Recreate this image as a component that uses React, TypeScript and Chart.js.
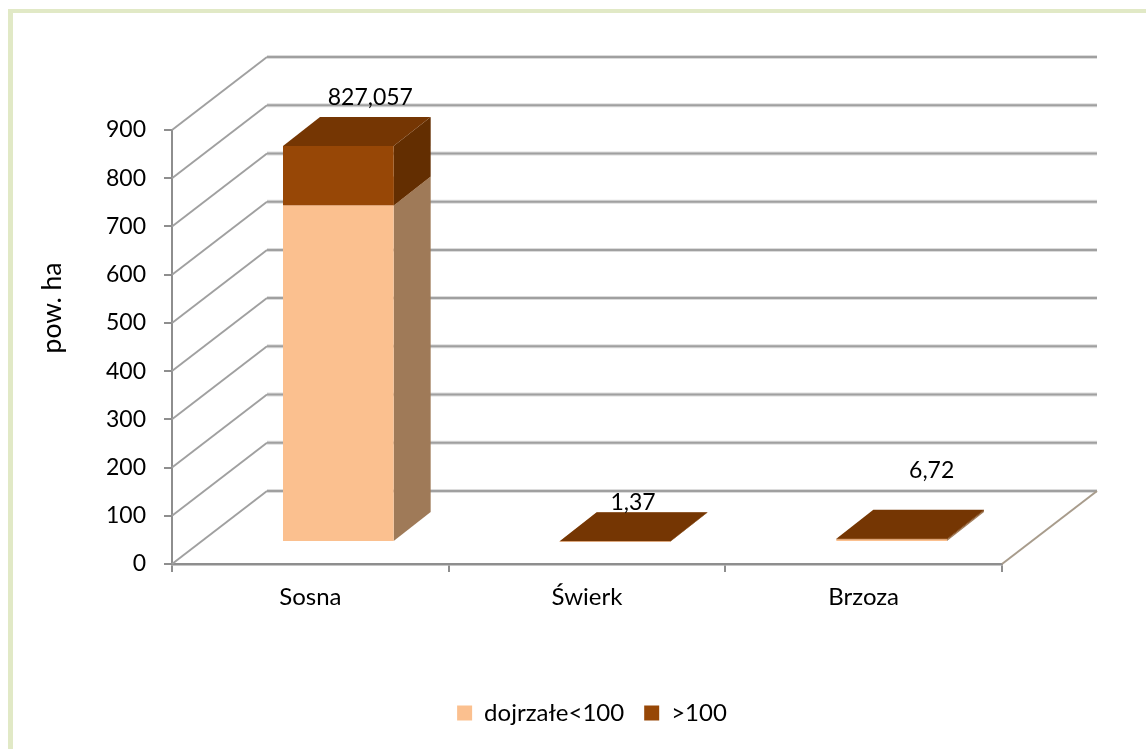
import React, { useEffect, useRef } from "react";
import { Chart, registerables } from "chart.js";

Chart.register(...registerables);

const categories = ["Sosna", "Świerk", "Brzoza"];
const matureValues = [698, 1.0, 5.4];
const overValues = [123, 0.37, 1.32];
const valueLabels = ["827,057", "1,37", "6,72"];
const seriesNames = ["dojrzałe<100", ">100"];
const yMax = 900;
const yStep = 100;
const axisTitle = "pow. ha";

const FONT = "Lato";
const FS = 23;
const FS2 = 24;
const FS_TITLE = 26.5;
const GRID = "#a0a0a0";
const AXIS = "#8e8e8e";
const WALL_DX = 95;
const WALL_DY = -73;
const BAR_SHIFT_X = 28;
const BAR_SHIFT_Y = -22;
const BAR_DX = 37;
const BAR_DY = -29;
const FACE_COLORS = ["#fbc08f", "#974706"];
const TOP_COLORS = ["#c99a72", "#753603"];
const SIDE_COLORS = ["#9f7a58", "#632e01"];
const LABEL_OFFSETS = [
  [32, -49],
  [18, -39],
  [40, -68],
];
const LEGEND_SHIFT = 74;

function poly(ctx: CanvasRenderingContext2D, pts: number[][], fill: string) {
  ctx.fillStyle = fill;
  ctx.beginPath();
  pts.forEach(([x, y], i) => (i ? ctx.lineTo(x, y) : ctx.moveTo(x, y)));
  ctx.closePath();
  ctx.fill();
}

const scene = {
  id: "scene3d",
  afterLayout(chart: any) {
    chart.legend.left += LEGEND_SHIFT;
    chart.legend.right += LEGEND_SHIFT;
  },
  beforeDraw(chart: any) {
    const { ctx } = chart;
    ctx.save();
    ctx.fillStyle = "#ffffff";
    ctx.fillRect(0, 0, chart.width, chart.height);
    ctx.fillStyle = "#e1e9c6";
    ctx.fillRect(8, 9, chart.width - 8, 4);
    ctx.fillRect(8, 9, 5, chart.height - 9);
    ctx.restore();
  },
  beforeDatasetsDraw(chart: any) {
    const { ctx, chartArea, scales } = chart;
    const y = scales.y;
    ctx.save();
    ctx.lineCap = "butt";
    y.ticks.forEach((t: any) => {
      const py = y.getPixelForValue(t.value);
      ctx.strokeStyle = GRID;
      ctx.lineWidth = 1.9;
      ctx.beginPath();
      ctx.moveTo(chartArea.left, py);
      ctx.lineTo(chartArea.left + WALL_DX, py + WALL_DY);
      ctx.stroke();
      ctx.strokeStyle = "#dcdcdc";
      ctx.lineWidth = 4;
      ctx.beginPath();
      ctx.moveTo(chartArea.left + WALL_DX, py + WALL_DY);
      ctx.lineTo(chartArea.right + WALL_DX, py + WALL_DY);
      ctx.stroke();
      ctx.strokeStyle = GRID;
      ctx.lineWidth = 2;
      ctx.beginPath();
      ctx.moveTo(chartArea.left + WALL_DX, py + WALL_DY);
      ctx.lineTo(chartArea.right + WALL_DX, py + WALL_DY);
      ctx.stroke();
    });
    // floor right edge
    ctx.strokeStyle = "#a89c8c";
    ctx.lineWidth = 2;
    ctx.beginPath();
    ctx.moveTo(chartArea.right, chartArea.bottom);
    ctx.lineTo(chartArea.right + WALL_DX, chartArea.bottom + WALL_DY);
    ctx.stroke();

    // bar sides and tops
    chart.data.datasets.forEach((_: any, di: number) => {
      chart.getDatasetMeta(di).data.forEach((b: any) => {
        const r = b.x + b.width / 2 + BAR_SHIFT_X;
        const l = b.x - b.width / 2 + BAR_SHIFT_X;
        const t = b.y + BAR_SHIFT_Y;
        const bt = b.base + BAR_SHIFT_Y;
        poly(ctx, [[r, t], [r + BAR_DX, t + BAR_DY], [r + BAR_DX, bt + BAR_DY], [r, bt]], SIDE_COLORS[di]);
        poly(ctx, [[l, t], [l + BAR_DX, t + BAR_DY], [r + BAR_DX, t + BAR_DY], [r, t]], TOP_COLORS[di]);
      });
    });
    ctx.restore();
    ctx.save();
    ctx.translate(BAR_SHIFT_X, BAR_SHIFT_Y);
  },
  afterDatasetsDraw(chart: any) {
    const { ctx, scales } = chart;
    ctx.restore();
    ctx.save();
    ctx.fillStyle = "#000";
    ctx.font = `${FS}px ${FONT}`;
    ctx.textAlign = "center";
    ctx.textBaseline = "middle";
    const top = chart.getDatasetMeta(chart.data.datasets.length - 1).data;
    valueLabels.forEach((txt, i) => {
      const base = scales.y.getPixelForValue(matureValues[i] + overValues[i]);
      ctx.fillText(txt, top[i].x + BAR_SHIFT_X + LABEL_OFFSETS[i][0], base + BAR_SHIFT_Y + LABEL_OFFSETS[i][1]);
    });
    ctx.font = `${FS_TITLE}px ${FONT}`;
    ctx.translate(52, 308);
    ctx.rotate(-Math.PI / 2);
    ctx.fillText(axisTitle, 0, 0);
    ctx.restore();
  },
};

export default function App() {
  const ref = useRef<HTMLCanvasElement>(null);
  useEffect(() => {
    const chart = new Chart(ref.current!, {
      type: "bar",
      data: {
        labels: categories,
        datasets: [
          { label: seriesNames[0], data: matureValues, backgroundColor: FACE_COLORS[0], stack: "s", clip: false as any },
          { label: seriesNames[1], data: overValues, backgroundColor: FACE_COLORS[1], stack: "s", clip: false as any },
        ],
      },
      options: {
        animation: false,
        responsive: false,
        devicePixelRatio: 1,
        barPercentage: 0.4,
        categoryPercentage: 1,
        layout: { padding: { left: 34, top: 130, right: 144, bottom: 14 } },
        plugins: {
          title: { display: false },
          tooltip: { enabled: false },
          legend: {
            position: "bottom",
            labels: {
              boxWidth: 15,
              boxHeight: 15,
              padding: 20,
              color: "#000",
              font: { family: FONT, size: FS2 },
            },
          },
        },
        scales: {
          x: {
            stacked: true,
            afterFit: (s: any) => {
              s.height = 117;
            },
            grid: { drawOnChartArea: false, tickLength: 8, color: AXIS, lineWidth: 2 },
            border: { color: AXIS, width: 2.5 },
            ticks: { color: "#000", font: { family: FONT, size: FS2 }, padding: 11, maxRotation: 0 },
          },
          y: {
            stacked: true,
            min: 0,
            max: yMax,
            afterFit: (s: any) => {
              s.width = 138;
            },
            grid: { drawOnChartArea: false, tickLength: 8, color: AXIS, lineWidth: 2 },
            border: { color: AXIS, width: 2 },
            ticks: { stepSize: yStep, color: "#000", font: { family: FONT, size: FS }, padding: 18 },
          },
        },
      },
      plugins: [scene],
    });
    return () => chart.destroy();
  }, []);
  return (
    <div style={{ position: "absolute", left: 0, top: 0, width: 1146, height: 749, overflow: "hidden" }}>
      <canvas ref={ref} width={1146} height={749} style={{ display: "block", width: 1146, height: 749, filter: "blur(0.35px)" }} />
    </div>
  );
}
